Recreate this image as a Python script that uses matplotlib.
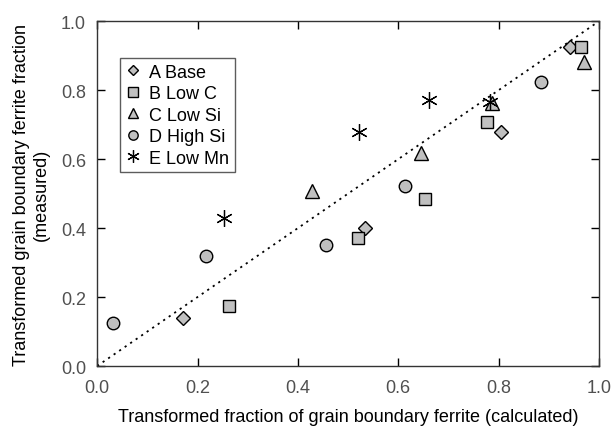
import matplotlib
matplotlib.use("Agg")
import matplotlib.pyplot as plt

# Data (calculated, measured)
a_x = [0.171, 0.534, 0.805, 0.942]
a_y = [0.139, 0.400, 0.678, 0.925]
b_x = [0.263, 0.520, 0.653, 0.777, 0.964]
b_y = [0.174, 0.371, 0.484, 0.707, 0.925]
c_x = [0.428, 0.645, 0.787, 0.970]
c_y = [0.507, 0.617, 0.762, 0.881]
d_x = [0.032, 0.217, 0.456, 0.613, 0.884]
d_y = [0.125, 0.319, 0.351, 0.521, 0.824]
e_x = [0.253, 0.522, 0.661, 0.783]
e_y = [0.429, 0.678, 0.771, 0.765]
labels = ["A Base", "B Low C", "C Low Si", "D High Si", "E Low Mn"]
ticks = [0.0, 0.2, 0.4, 0.6, 0.8, 1.0]
tick_labels = ["0.0", "0.2", "0.4", "0.6", "0.8", "1.0"]

plt.rcParams['font.family'] = ['Liberation Sans', 'DejaVu Sans']

fig = plt.figure(figsize=(6.15, 4.27), dpi=100)
ax = fig.add_axes([0.158, 0.1405, 0.816, 0.8075])

ax.plot([0, 1], [0, 1], color='black', linestyle=(0, (1.2, 2.5)), linewidth=1.3, zorder=1)

fc = '#c0c0c0'
kw = dict(linestyle='none', markerfacecolor=fc, markeredgecolor='black', markeredgewidth=1.0, zorder=3)
ax.plot(a_x, a_y, marker='D', markersize=7, label=labels[0], **kw)
ax.plot(b_x, b_y, marker='s', markersize=9, label=labels[1], **kw)
ax.plot(c_x, c_y, marker='^', markersize=10, label=labels[2], **kw)
ax.plot(d_x, d_y, marker='o', markersize=9, label=labels[3], **kw)
ax.plot(e_x, e_y, marker=(6, 2, 0), markersize=12, linestyle='none', color='black',
        markeredgewidth=0.9, label=labels[4], zorder=3)

ax.set_xlim(0, 1)
ax.set_ylim(0, 1)
ax.set_xticks(ticks)
ax.set_yticks(ticks)
ax.set_xticklabels(tick_labels)
ax.set_yticklabels(tick_labels)
ax.tick_params(axis='both', direction='in', length=6, width=1, top=True, right=True,
               labelsize=13, labelcolor='#505050')
ax.tick_params(axis='y', pad=8)
ax.tick_params(axis='x', pad=9)
for s in ax.spines.values():
    s.set_linewidth(1.0)
    s.set_color('#333333')

ax.set_xlabel("Transformed fraction of grain boundary ferrite (calculated)", fontsize=13, labelpad=9)
ax.set_ylabel("Transformed grain boundary ferrite fraction\n(measured)", fontsize=13, labelpad=8,
              linespacing=1.25)

leg = ax.legend(loc='upper left', bbox_to_anchor=(0.046, 0.893), fontsize=13, frameon=True,
                fancybox=False, edgecolor='#333333', handlelength=0.8, handletextpad=0.5,
                borderpad=0.3, labelspacing=0.25, markerscale=0.75, borderaxespad=0)
leg.get_frame().set_linewidth(1.0)

fig.savefig("out.png", dpi=100)
